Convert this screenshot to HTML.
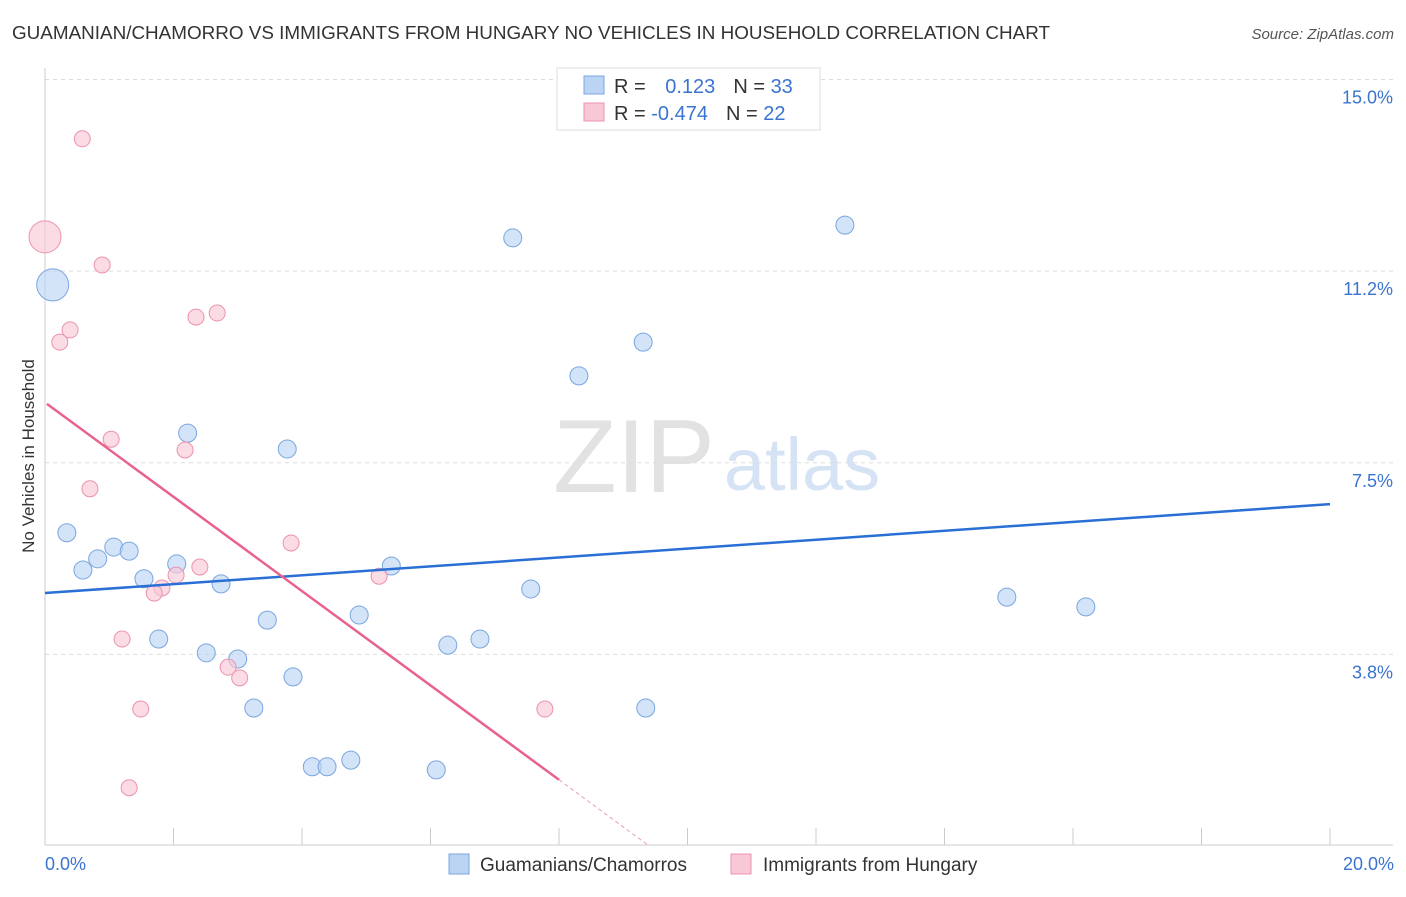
<!DOCTYPE html>
<html><head><meta charset="utf-8"><style>
body{margin:0;background:#fff;font-family:"Liberation Sans",sans-serif;}
svg text{font-family:"Liberation Sans",sans-serif;}
</style></head><body>
<svg width="1406" height="892" viewBox="0 0 1406 892">
<text x="12" y="39" font-size="18" fill="#333" textLength="1038" lengthAdjust="spacingAndGlyphs">GUAMANIAN/CHAMORRO VS IMMIGRANTS FROM HUNGARY NO VEHICLES IN HOUSEHOLD CORRELATION CHART</text>
<text x="1394" y="39" font-size="15" fill="#555" font-style="italic" text-anchor="end">Source: ZipAtlas.com</text>
<g>
<text x="634" y="492" font-size="104" fill="#e2e2e2" font-family="Liberation Serif" text-anchor="middle">ZIP</text>
<text x="802" y="490" font-size="74" fill="#d5e3f5" text-anchor="middle">atlas</text>
</g>
<g id="grid"></g>
<g id="axes"></g>
<g id="marks"></g>
<text transform="translate(34,456) rotate(-90)" font-size="17" fill="#333" text-anchor="middle">No Vehicles in Household</text>
<g>
<rect x="557" y="68" width="263" height="62" fill="#fff" stroke="#ddd"/>
<rect x="584" y="76" width="20" height="18" fill="#bcd4f4" stroke="#7aa6e0"/>
<rect x="584" y="103" width="20" height="18" fill="#f9c8d6" stroke="#eb93ab"/>
<text x="614" y="93" font-size="20" fill="#333">R = <tspan fill="#3a74d0" dx="14">0.123</tspan><tspan dx="18" fill="#333">N = </tspan><tspan fill="#3a74d0">33</tspan></text>
<text x="614" y="120" font-size="20" fill="#333">R = <tspan fill="#3a74d0">-0.474</tspan><tspan dx="18" fill="#333">N = </tspan><tspan fill="#3a74d0">22</tspan></text>
</g>
<g>
<rect x="449" y="854" width="20" height="20" fill="#bcd4f4" stroke="#7aa6e0"/>
<text x="480" y="871" font-size="19" fill="#333">Guamanians/Chamorros</text>
<rect x="731" y="854" width="20" height="20" fill="#f9c8d6" stroke="#eb93ab"/>
<text x="763" y="871" font-size="19" fill="#333">Immigrants from Hungary</text>
</g>
</svg>
<script>
const yTicks=[3.75,7.5,11.25,15];
const yTickLabels=["3.8%","7.5%","11.2%","15.0%"];
const xTicks=[0,2,4,6,8,10,12,14,16,18,20];
const xTickLabels=["0.0%","20.0%"];
const blueX=[0.12,0.34,0.59,0.82,1.07,1.31,1.54,1.77,2.05,2.22,2.51,2.74,3.00,3.25,3.46,3.77,3.86,4.16,4.39,4.76,4.89,5.39,6.09,6.27,6.77,7.28,7.56,8.31,9.31,9.35,12.45,14.97,16.20];
const blueY=[10.98,6.13,5.40,5.62,5.85,5.77,5.23,4.05,5.52,8.08,3.78,5.13,3.66,2.70,4.42,7.77,3.31,1.55,1.55,1.68,4.52,5.48,1.49,3.93,4.05,11.90,5.03,9.20,9.86,2.70,12.15,4.87,4.68];
const blueR=[16,9,9,9,9,9,9,9,9,9,9,9,9,9,9,9,9,9,9,9,9,9,9,9,9,9,9,9,9,9,9,9,9];
const pinkX=[0.0,0.58,0.89,0.39,0.23,1.03,0.70,2.18,2.35,2.68,3.83,2.04,2.41,1.82,1.70,1.20,2.85,3.03,5.20,1.49,7.78,1.31];
const pinkY=[11.92,13.84,11.37,10.10,9.86,7.96,6.99,7.75,10.35,10.43,5.93,5.30,5.46,5.05,4.95,4.05,3.50,3.29,5.28,2.68,2.68,1.14];
const pinkR=[16,8,8,8,8,8,8,8,8,8,8,8,8,8,8,8,8,8,8,8,8,8];
const blueTrend=[4.95,6.69];
const pinkTrend=[8.68,-0.923];
const X=v=>45+v*64.25, Y=v=>846-v*51.1;
const NS="http://www.w3.org/2000/svg";
function mk(p,t,a){const e=document.createElementNS(NS,t);for(const k in a)e.setAttribute(k,a[k]);document.getElementById(p).appendChild(e);return e;}
yTicks.forEach((t,i)=>{
 const l=mk('grid','line',{x1:45,x2:1393,y1:Y(t),y2:Y(t),stroke:'#ddd','stroke-dasharray':'4,4'});
 
 
 const tx=mk('grid','text',{x:1393,y:Y(t)+24,'font-size':18,fill:'#3a74d0','text-anchor':'end'});tx.textContent=yTickLabels[i];
 
 
});
let ax=mk('axes','line',{x1:45,x2:45,y1:68,y2:845,stroke:'#ccc'});


ax=mk('axes','line',{x1:45,x2:1393,y1:845,y2:845,stroke:'#ccc'});


xTicks.forEach(t=>{const l=mk('axes','line',{x1:X(t),x2:X(t),y1:828,y2:845,stroke:'#ccc'});
 
 });
[[0,'start',45],[20,'end',1394]].forEach(([v,a,px],i)=>{const t=mk('axes','text',{x:px,y:870,'font-size':18,fill:'#3a74d0','text-anchor':a});t.textContent=xTickLabels[i];
 
 });
blueX.forEach((x,i)=>{const c=mk('marks','circle',{cx:X(x),cy:Y(blueY[i]),r:blueR[i],fill:'#bcd4f4','fill-opacity':0.65,stroke:'#7aa6e0'});
 
 });
pinkX.forEach((x,i)=>{const c=mk('marks','circle',{cx:X(x),cy:Y(pinkY[i]),r:pinkR[i],fill:'#f9c8d6','fill-opacity':0.65,stroke:'#eb93ab'});
 
 });
let tl=mk('marks','line',{x1:X(0),y1:Y(blueTrend[0]),x2:X(20),y2:Y(blueTrend[1]),stroke:'#2a6fd6','stroke-width':2.5});


const pf=x=>pinkTrend[0]+pinkTrend[1]*x;
tl=mk('marks','line',{x1:X(0.03),y1:Y(pf(0.03)),x2:X(8),y2:Y(pf(8)),stroke:'#e8628c','stroke-width':2.5});


const xe=-pinkTrend[0]/pinkTrend[1];
tl=mk('marks','line',{x1:X(8),y1:Y(pf(8)),x2:X(xe),y2:Y(0),stroke:'#e8a0b4','stroke-width':1,'stroke-dasharray':'4,3'});


</script>
</body></html>
